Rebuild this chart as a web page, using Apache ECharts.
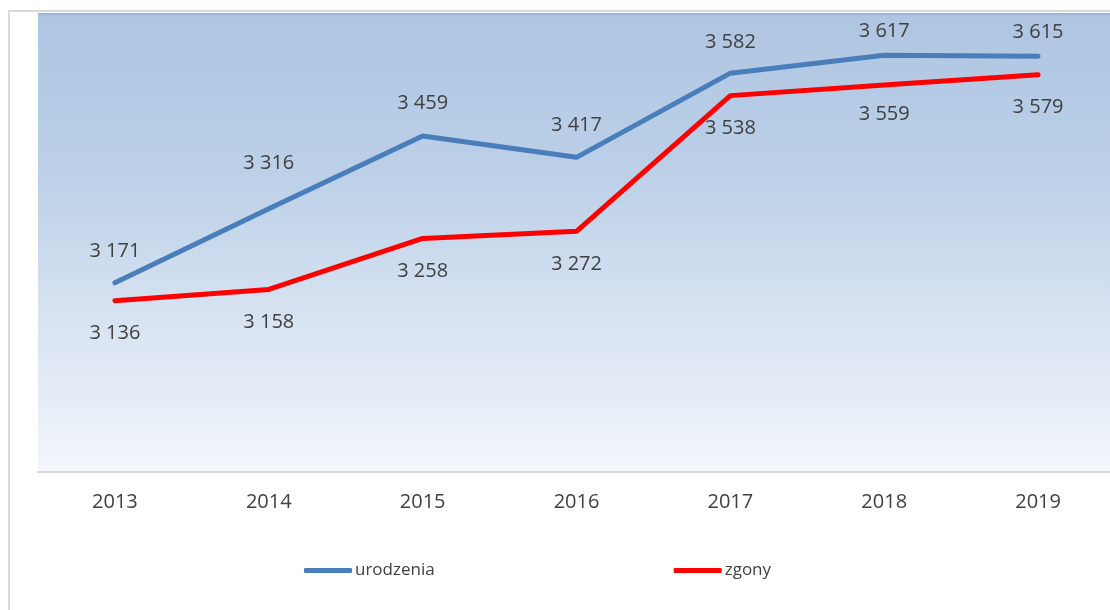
<!DOCTYPE html>
<html>
<head>
<meta charset="utf-8">
<script src="https://cdn.jsdelivr.net/npm/echarts@6/dist/echarts.min.js"></script>
<style>
  html, body { margin: 0; padding: 0; background: #fff; }
  #chart { width: 1110px; height: 610px; }
</style>
</head>
<body>
<div id="chart"></div>
<script>
const years = ['2013', '2014', '2015', '2016', '2017', '2018', '2019'];
const births = [3171, 3316, 3459, 3417, 3582, 3617, 3615];
const deaths = [3136, 3158, 3258, 3272, 3538, 3559, 3579];

const fmt = v => String(v).replace(/\B(?=(\d{3})+(?!\d))/g, ' ');
const FONT = '"Open Sans", sans-serif';

// label spacing tweaks, per point
const birthLabelGap = [21, 36, 23, 22, 21, 14, 14];
const deathLabelGap = [23, 23, 23, 23, 23, 19, 23];

const chart = echarts.init(document.getElementById('chart'));

const labelBase = {
  show: true,
  color: '#404040',
  fontFamily: FONT,
  fontSize: 20,
  formatter: p => fmt(p.value)
};

chart.setOption({
  animation: false,
  graphic: [
    {
      type: 'rect',
      shape: { x: 9, y: 11, width: 1120, height: 620 },
      style: { fill: 'none', stroke: '#d9d9d9', lineWidth: 2 },
      z: -10
    }
  ],
  grid: {
    left: 38,
    top: 13,
    right: -5,
    height: 459,
    outerBoundsMode: 'none',
    containLabel: false,
    show: true,
    borderWidth: 0,
    backgroundColor: new echarts.graphic.LinearGradient(0, 0, 0, 1, [
      { offset: 0, color: '#8fadd8' },
      { offset: 0.006, color: '#afc5e1' },
      { offset: 0.35, color: '#bcd0e8' },
      { offset: 0.65, color: '#d6e2f1' },
      { offset: 1, color: '#f3f6fb' }
    ])
  },
  legend: {
    left: 299,
    top: 557,
    itemGap: 239,
    itemWidth: 48,
    itemHeight: 5,
    icon: 'roundRect',
    textStyle: { color: '#404040', fontFamily: FONT, fontSize: 17, padding: [0, 0, 0, -2] },
    data: ['urodzenia', 'zgony']
  },
  xAxis: {
    type: 'category',
    data: years,
    boundaryGap: true,
    axisLine: { lineStyle: { color: '#d9d9d9', width: 2 } },
    axisTick: { show: false },
    axisLabel: { color: '#404040', fontFamily: FONT, fontSize: 20, margin: 20 }
  },
  yAxis: {
    type: 'value',
    min: 2800,
    max: 3700,
    show: false,
    splitLine: { show: false }
  },
  series: [
    {
      name: 'urodzenia',
      type: 'line',
      data: births.map((v, i) => ({ value: v, label: { distance: birthLabelGap[i] } })),
      symbol: 'circle',
      symbolSize: 0,
      showSymbol: true,
      lineStyle: { color: '#4a7ebb', width: 5, cap: 'round', join: 'round' },
      itemStyle: { color: '#4a7ebb' },
      label: Object.assign({ position: 'top' }, labelBase)
    },
    {
      name: 'zgony',
      type: 'line',
      data: deaths.map((v, i) => ({ value: v, label: { distance: deathLabelGap[i] } })),
      symbol: 'circle',
      symbolSize: 0,
      showSymbol: true,
      lineStyle: { color: '#ff0000', width: 5, cap: 'round', join: 'round' },
      itemStyle: { color: '#ff0000' },
      label: Object.assign({ position: 'bottom' }, labelBase)
    }
  ]
});
</script>
</body>
</html>
